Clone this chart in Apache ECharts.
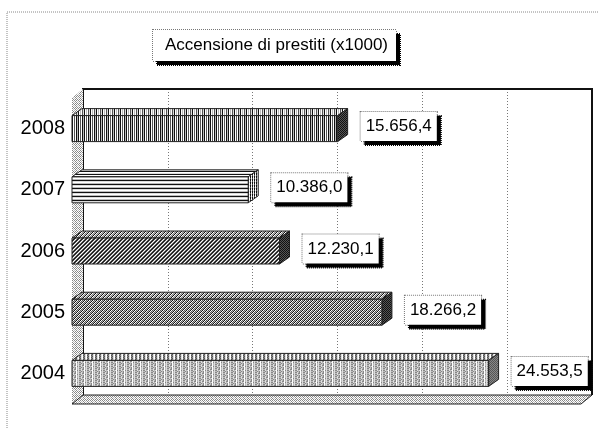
<!DOCTYPE html>
<html>
<head>
<meta charset="utf-8">
<script src="https://cdn.jsdelivr.net/npm/echarts@6/dist/echarts.min.js"></script>
<style>
  html, body { margin: 0; padding: 0; background: #fff; }
  #chart { width: 598px; height: 428px; }
</style>
</head>
<body>
<div id="chart"></div>
<script>
// Loans raised per year (thousands)
const years = ['2004', '2005', '2006', '2007', '2008'];
const loans = [24553.5, 18266.2, 12230.1, 10386.0, 15656.4];
const axisMin = 0;
const axisMax = 30000;
const axisStep = 5000;
const titleText = 'Accensione di prestiti (x1000)';

const FONT = '"Liberation Sans", Arial, sans-serif';

// front plane of the box and its depth offsets
const FRONT = { left: 72, top: 98, width: 509, height: 306 };
const WALL_DX = 11, WALL_DY = -9;
const BAR_DX = 10, BAR_DY = -7, BAR_H = 26;

// Italian number format: 24.553,5
function fmt(v) {
  const parts = v.toFixed(1).split('.');
  return parts[0].replace(/\B(?=(\d{3})+(?!\d))/g, '.') + ',' + parts[1];
}

// small repeating bitmap fills
function pattern(rows) {
  const h = rows.length, w = rows[0].length;
  const c = document.createElement('canvas');
  c.width = w; c.height = h;
  const g = c.getContext('2d');
  const shade = { '#': '#111', 'd': '#555', 'm': '#888', 'l': '#bbb', 'L': '#ddd', '.': '#fff' };
  for (let y = 0; y < h; y++) {
    for (let x = 0; x < w; x++) {
      g.fillStyle = shade[rows[y][x]];
      g.fillRect(x, y, 1, 1);
    }
  }
  return { image: c, repeat: 'repeat' };
}

const fills = {
  // 2004: light grey, vertical grain
  '2004': {
    front: pattern(['mLlm.lLm', 'lLmm.lLl', 'mLlL.mLm', 'lmlm.lLl']),
    top: pattern(['dL.m', 'mL.d']),
    side: pattern(['dm', 'md'])
  },
  // 2005: diagonal hatching
  '2005': {
    front: pattern(['#.dl', '.dl#', 'dl#.', 'l#.d']),
    top: pattern(['#.ml', '.ml#', 'ml#.', 'l#.m']),
    side: pattern(['#d', 'd#'])
  },
  // 2006: dense diagonal hatching, darker
  '2006': {
    front: pattern(['#d.m', 'd.m#', '.m#d', 'm#d.']),
    top: pattern(['#.ml', '.ml#', 'ml#.', 'l#.m']),
    side: pattern(['#d', 'd#'])
  },
  // 2007: horizontal lines
  '2007': {
    front: pattern(['#', 'L', '.', 'l']),
    top: pattern(['#', '.', 'L']),
    side: pattern(['#.', 'd.', '#L'])
  },
  // 2008: vertical lines
  '2008': {
    front: pattern(['#.d.#l', '#.d.#l']),
    top: pattern(['#.l.dL']),
    side: pattern(['#d', 'd#'])
  }
};
const wallFill = pattern(['m.m.', '.l.m', 'm.l.', '.m.m']);

function renderBar(params, api) {
  const cat = api.value(1);
  const v = api.value(0);
  const a = api.coord([axisMin, cat]);
  const b = api.coord([v, cat]);
  const x0 = a[0], x1 = b[0];
  const yT = b[1] - BAR_H / 2, yB = b[1] + BAR_H / 2;
  const f = fills[years[cat]];
  const edge = { stroke: '#222', lineWidth: 1 };
  return {
    type: 'group',
    children: [
      { type: 'polygon', shape: { points: [[x0, yT], [x0 + BAR_DX, yT + BAR_DY], [x1 + BAR_DX, yT + BAR_DY], [x1, yT]] },
        style: Object.assign({ fill: f.top }, edge) },
      { type: 'polygon', shape: { points: [[x1, yT], [x1 + BAR_DX, yT + BAR_DY], [x1 + BAR_DX, yB + BAR_DY], [x1, yB]] },
        style: Object.assign({ fill: f.side }, edge) },
      { type: 'rect', shape: { x: x0, y: yT, width: x1 - x0, height: BAR_H },
        style: Object.assign({ fill: f.front }, edge) },
      { type: 'text', x: x1 + 23, y: b[1] - 2,
        style: {
          text: fmt(v), font: '17px ' + FONT, fill: '#000',
          align: 'left', verticalAlign: 'middle',
          backgroundColor: '#fff', borderColor: '#777', borderWidth: 1, borderDash: [1, 1],
          padding: [6, 5, 6, 5],
          shadowColor: '#000', shadowBlur: 0, shadowOffsetX: 4, shadowOffsetY: 4
        } }
    ]
  };
}

// back wall outline, left wall and floor of the box
function renderWalls(params, api) {
  const band = api.size([0, 1])[1];
  const lo = api.coord([axisMin, 0]);
  const hi = api.coord([axisMax, years.length - 1]);
  const xL = lo[0], xR = hi[0];
  const yBot = lo[1] + band / 2, yTop = hi[1] - band / 2;
  const edge = { stroke: '#222', lineWidth: 1 };
  const bx0 = xL + WALL_DX, bx1 = xR + WALL_DX, by0 = yTop + WALL_DY, by1 = yBot + WALL_DY;
  return {
    type: 'group',
    children: [
      { type: 'polyline', shape: { points: [[bx0, by1], [bx0, by0], [bx1, by0], [bx1, by1]] },
        style: { stroke: '#111', lineWidth: 2, fill: null } },
      { type: 'polygon', shape: { points: [[xL, yTop], [bx0, by0], [bx0, by1], [xL, yBot]] },
        style: { fill: wallFill, stroke: null } },
      { type: 'polygon', shape: { points: [[xL, yBot], [bx0, by1], [bx1, by1], [xR, yBot]] },
        style: Object.assign({ fill: wallFill }, edge) }
    ]
  };
}

const chart = echarts.init(document.getElementById('chart'), null, { renderer: 'canvas' });

chart.setOption({
  animation: false,
  backgroundColor: '#fff',
  title: {
    text: '{box|' + titleText + '}',
    left: 153, top: 30, padding: 0,
    textStyle: {
      fontWeight: 'normal',
      rich: {
        box: {
          fontFamily: FONT, fontSize: 17, fontWeight: 'normal', color: '#000',
          backgroundColor: '#fff', borderColor: '#777', borderWidth: 1, borderType: [1, 1],
          padding: [7, 8, 7, 12],
          shadowColor: '#000', shadowBlur: 0, shadowOffsetX: 4, shadowOffsetY: 4
        }
      }
    }
  },
  graphic: [{
    type: 'rect', silent: true, z: -10,
    shape: { x: 7, y: 12, width: 700, height: 700 },
    style: { fill: null, stroke: '#888', lineWidth: 1, lineDash: [1, 1] }
  }],
  grid: [
    { left: FRONT.left, top: FRONT.top, width: FRONT.width, height: FRONT.height, containLabel: false },
    { left: FRONT.left + WALL_DX, top: FRONT.top + WALL_DY, width: FRONT.width, height: FRONT.height, containLabel: false }
  ],
  xAxis: [
    { type: 'value', gridIndex: 0, min: axisMin, max: axisMax, interval: axisStep,
      axisLine: { show: false }, axisTick: { show: false }, axisLabel: { show: false }, splitLine: { show: false } },
    { type: 'value', gridIndex: 1, min: axisMin, max: axisMax, interval: axisStep,
      axisLine: { show: false }, axisTick: { show: false }, axisLabel: { show: false },
      splitLine: { show: true, lineStyle: { color: '#777', width: 1, type: [1, 2] } } }
  ],
  yAxis: [
    { type: 'category', gridIndex: 0, data: years,
      axisLine: { show: false }, axisTick: { show: false },
      axisLabel: { fontFamily: FONT, fontSize: 20, color: '#000', margin: 7 } },
    { type: 'category', gridIndex: 1, data: years, show: false }
  ],
  series: [
    { type: 'custom', name: 'walls', xAxisIndex: 0, yAxisIndex: 0, z: 1,
      renderItem: renderWalls, data: [[axisMin, 0]], encode: { x: 0, y: 1 }, silent: true, clip: false },
    { type: 'custom', name: 'Accensione di prestiti', xAxisIndex: 0, yAxisIndex: 0, z: 3,
      renderItem: renderBar,
      data: loans.map((v, i) => [v, i]),
      encode: { x: 0, y: 1 }, clip: false }
  ]
});
</script>
</body>
</html>
